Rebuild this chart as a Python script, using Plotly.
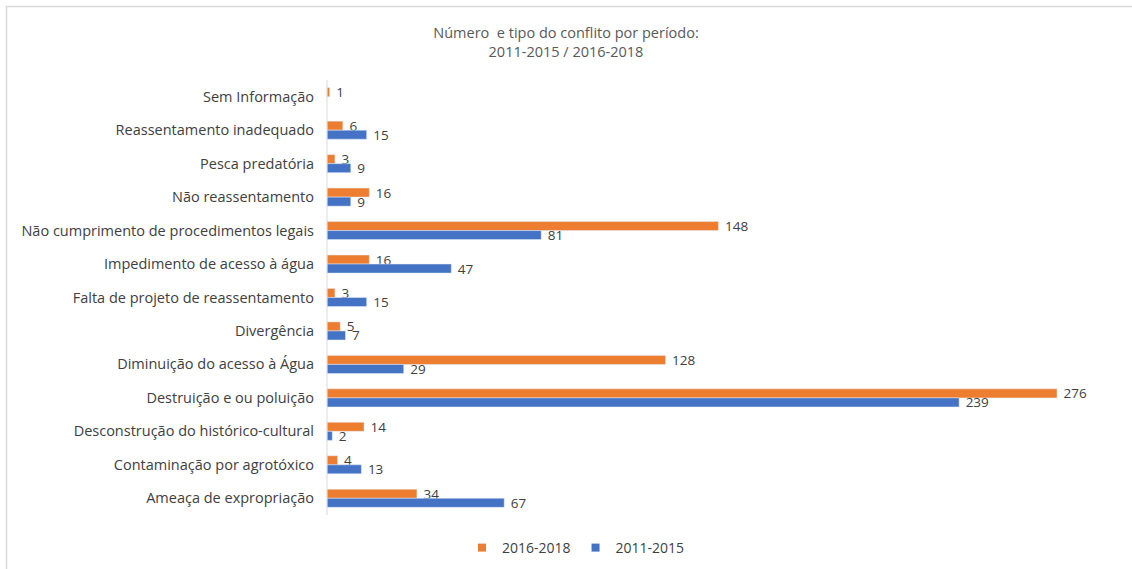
import plotly.graph_objects as go

categories = [
    "Sem Informação",
    "Reassentamento inadequado",
    "Pesca predatória",
    "Não reassentamento",
    "Não cumprimento de procedimentos legais",
    "Impedimento de acesso à água",
    "Falta de projeto de reassentamento",
    "Divergência",
    "Diminuição do acesso à Água",
    "Destruição e ou poluição",
    "Desconstrução do histórico-cultural",
    "Contaminação por agrotóxico",
    "Ameaça de expropriação",
]
values_2016_2018 = [1, 6, 3, 16, 148, 16, 3, 5, 128, 276, 14, 4, 34]
values_2011_2015 = [None, 15, 9, 9, 81, 47, 15, 7, 29, 239, 2, 13, 67]
series_names = ["2016-2018", "2011-2015"]

W, H = 1132, 569
L, R, T, B = 327, 32, 80, 54
pw = W - L - R
ph = H - T - B
px_per_unit = (1057 - 327) / 276.0
xmax = pw / px_per_unit

ORANGE = "#ED7D31"
BLUE = "#4472C4"
TXT = "#404040"
FONT = "Open Sans"

fig = go.Figure()
for name, vals, col in [(series_names[0], values_2016_2018, ORANGE),
                        (series_names[1], values_2011_2015, BLUE)]:
    fig.add_trace(go.Bar(
        y=categories, x=vals, orientation="h", name=name,
        marker_color=col, text=vals, textposition="outside",
        texttemplate=" %{text}", constraintext="none",
        textfont=dict(color=TXT, size=13.5, family=FONT), cliponaxis=False,
        showlegend=False,
    ))
# legend entries with small square markers
for name, col in [(series_names[0], ORANGE), (series_names[1], BLUE)]:
    fig.add_trace(go.Scatter(
        x=[None], y=[None], mode="markers", name=name,
        marker=dict(symbol="square", size=8, color=col),
        showlegend=True,
    ))

def px2paper_x(p):
    return (p - L) / pw

def px2paper_y(p):
    return (H - B - p) / ph

fig.update_layout(
    width=W, height=H,
    margin=dict(l=L, r=R, t=T, b=B),
    paper_bgcolor="white", plot_bgcolor="white",
    barmode="group", bargap=0.46, bargroupgap=0.0,
    font=dict(family=FONT, color=TXT, size=13),
    title=dict(
        text="Número  e tipo do conflito por período:<br>2011-2015 / 2016-2018",
        x=566 / W, xref="container", xanchor="center",
        y=1 - 38 / H, yref="container", yanchor="middle",
        font=dict(family=FONT, size=14.5, color="#595959"),
    ),
    xaxis=dict(range=[0, xmax], showticklabels=False, showgrid=False,
               zeroline=False, showline=False, ticks=""),
    yaxis=dict(autorange="reversed", showgrid=False, zeroline=False,
               showline=False, ticks="", ticklabelstandoff=12,
               tickfont=dict(family=FONT, size=14.5, color=TXT)),
    legend=dict(orientation="h", x=576 / W, xref="container", xanchor="center",
                y=(H - 548) / H, yref="container", yanchor="middle",
                font=dict(family=FONT, size=14, color=TXT),
                itemwidth=30, tracegroupgap=0),
    shapes=[
        dict(type="line", xref="paper", yref="paper",
             x0=0, x1=0, y0=px2paper_y(80), y1=px2paper_y(515),
             line=dict(color="#D9D9D9", width=1)),
        dict(type="line", xref="paper", yref="paper",
             x0=px2paper_x(6), x1=px2paper_x(W + 5), y0=px2paper_y(6.5), y1=px2paper_y(6.5),
             line=dict(color="#D9D9D9", width=1.5)),
        dict(type="line", xref="paper", yref="paper",
             x0=px2paper_x(6.5), x1=px2paper_x(6.5), y0=px2paper_y(6), y1=px2paper_y(H + 5),
             line=dict(color="#D9D9D9", width=1.5)),
    ],
)

fig.write_html("out.html", config={"displayModeBar": False},
               post_script="document.body.style.margin='0';document.body.style.overflow='hidden';")
